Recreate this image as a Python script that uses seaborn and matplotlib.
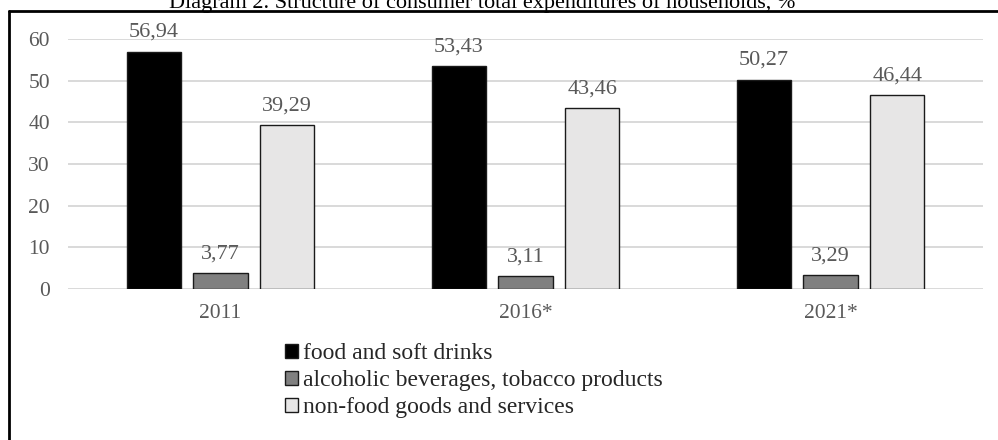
import matplotlib
matplotlib.use("Agg")
import matplotlib.pyplot as plt
from matplotlib.lines import Line2D
import seaborn as sns
import pandas as pd

years = ["2011", "2016*", "2021*"]
categories = ["food and soft drinks",
              "alcoholic beverages, tobacco products",
              "non-food goods and services"]
food = [56.94, 53.43, 50.27]
alcohol = [3.77, 3.11, 3.29]
nonfood = [39.29, 43.46, 46.44]
colors = ["#000000", "#808080", "#e7e6e6"]

rows = []
for cat, vals in zip(categories, [food, alcohol, nonfood]):
    for y, v in zip(years, vals):
        rows.append({"year": y, "category": cat, "value": v})
df = pd.DataFrame(rows)

sns.set_theme(style="white")
plt.rcParams["font.family"] = ["Liberation Serif", "DejaVu Serif"]

W, H = 998, 440
fig = plt.figure(figsize=(W / 100, H / 100), dpi=100)
ax = fig.add_axes([68 / W, 1 - 289 / H, (983 - 68) / W, (289 - 39) / H])

sns.barplot(data=df, x="year", y="value", hue="category", order=years,
            hue_order=categories, palette=colors, width=0.657, gap=0.19,
            edgecolor="#1a1a1a", linewidth=1.0, ax=ax, legend=True)

ax.set_ylim(0, 60)
ax.set_xlim(-0.5, 2.5)
ax.set_yticks(range(0, 61, 10))
ax.set_xlabel("")
ax.set_ylabel("")
for s in ax.spines.values():
    s.set_visible(False)
ax.yaxis.grid(True, color="#d9d9d9", linewidth=1.4)
ax.set_axisbelow(True)
ax.tick_params(axis="both", length=0, colors="#595959", labelsize=15.5)
ax.tick_params(axis="y", pad=13)
ax.tick_params(axis="x", pad=11)

for cont in ax.containers:
    labels = [f"{b.get_height():.2f}".replace(".", ",") for b in cont]
    ax.bar_label(cont, labels=labels, padding=7, fontsize=16, color="#595959")

handles, labs = ax.get_legend_handles_labels()
ax.get_legend().remove()
fig.legend(handles, labs, loc="upper left",
           bbox_to_anchor=(276 / W, 1 - 334 / H), frameon=False,
           fontsize=17, handlelength=0.55, handleheight=0.55,
           handletextpad=0.2, labelspacing=0.25, borderaxespad=0)

fig.text(482 / W, 1 - 8 / H,
         "Diagram 2. Structure of consumer total expenditures of households, %",
         ha="center", va="baseline", fontsize=16, color="black")

fig.add_artist(Line2D([8.5 / W, 8.5 / W], [0, 1 - 11.5 / H],
                      transform=fig.transFigure, color="black", lw=2))
fig.add_artist(Line2D([8.5 / W, 1], [1 - 11.5 / H, 1 - 11.5 / H],
                      transform=fig.transFigure, color="black", lw=2))

fig.savefig("out.png", dpi=100)
